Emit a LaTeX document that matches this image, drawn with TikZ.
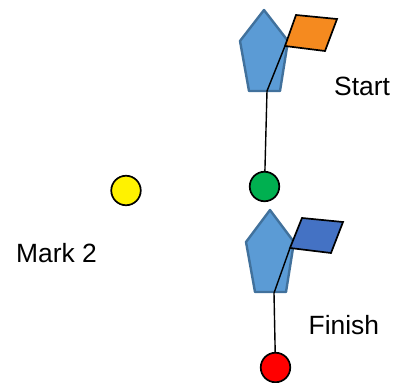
\documentclass[tikz,border=0pt]{standalone}
\usepackage{fontspec}
\setmainfont{Liberation Sans}
\definecolor{penfill}{HTML}{5B9BD5}
\definecolor{penline}{HTML}{41719C}
\definecolor{flagorange}{HTML}{F58A1F}
\definecolor{flagblue}{HTML}{4472C4}
\definecolor{markgreen}{HTML}{00B050}
\tikzset{
  penta/.style={draw=penline,fill=penfill,line width=2.4pt,line join=round},
  flagbox/.style={draw=black,line width=1.7pt,line join=miter},
  pole/.style={draw=black,line width=1.4pt,line join=round},
  dot/.style={circle,draw=black,line width=1.7pt,minimum size=29.5pt,inner sep=0pt},
  lab/.style={font=\fontsize{26.4pt}{28pt}\selectfont,inner sep=0pt,text=black}
}
\begin{document}
\begin{tikzpicture}[x=1pt,y=-1pt]
\useasboundingbox (0,0) rectangle (397,383);
% upper flag
\draw[penta] (264,10) -- (240,41) -- (249,91) -- (280,91) -- (288,41) -- cycle;
\node[dot,fill=markgreen] (green) at (264.5,186.5) {};
\coordinate (kneeA) at (267,91);
\coordinate (baseA) at (285,46);
\draw[flagbox,fill=flagorange] (baseA) -- (296,15) -- (337,19) -- (325,51) -- cycle;
\draw[pole] (baseA) -- (kneeA) -- (green);
% lower flag
\draw[penta] (270,210) -- (246,242) -- (255,292) -- (286,292) -- (294,242) -- cycle;
\node[dot,fill=red] (redm) at (275.5,367.5) {};
\coordinate (kneeB) at (274,293);
\coordinate (baseB) at (290,248);
\draw[flagbox,fill=flagblue] (baseB) -- (302,218) -- (343,222) -- (331,253) -- cycle;
\draw[pole] (baseB) -- (kneeB) -- (redm);
% other dot
\node[dot,fill=yellow] (yellowm) at (126,190.5) {};
% labels
\node[lab,anchor=base west] (start) at (334,95) {Start};
\node[lab,anchor=base west] (finish) at (308.5,334) {Finish};
\node[lab,anchor=base west] (mark2) at (16,262) {Mark 2};
\end{tikzpicture}
\end{document}
